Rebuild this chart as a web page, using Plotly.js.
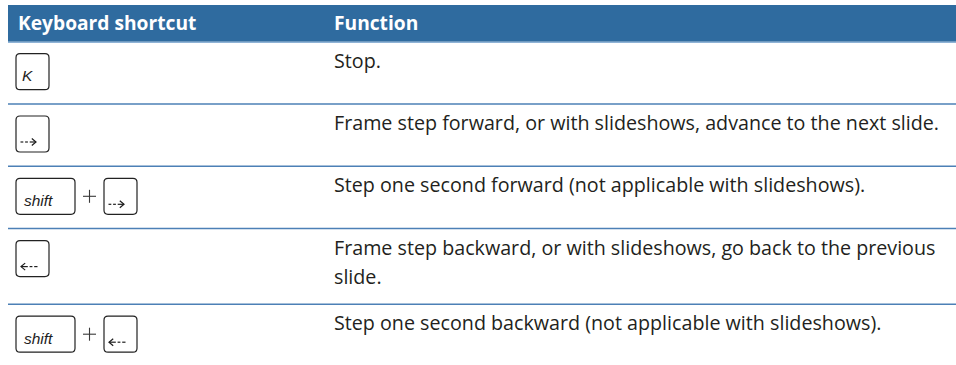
<!DOCTYPE html>
<html>
<head>
<meta charset="utf-8">
<script src="https://cdn.plot.ly/plotly-3.0.1.min.js"></script>
<style>html,body{margin:0;padding:0;background:#fff;}#chart{width:956px;height:365px;}</style>
</head>
<body>
<div id="chart"></div>
<script>
// ---- data ----
const headers = ["Keyboard shortcut", "Function"];
const shortcutKeys = [["K"], ["right"], ["shift", "right"], ["left"], ["shift", "left"]];
const functionTexts = [
  "Stop.",
  "Frame step forward, or with slideshows, advance to the next slide.",
  "Step one second forward (not applicable with slideshows).",
  "Frame step backward, or with slideshows, go back to the previous\nslide.",
  "Step one second backward (not applicable with slideshows)."
];

// ---- layout constants ----
const W = 956, H = 365;
const tableLeft = 8, tableRight = 956;
const headerTop = 5, headerBottom = 41.7;
const rowBase = 62.3, rowExtra = 13.3;
const col1X = 16, col2X = 332;
const textFont = "Open Sans", textSize = 19.7, textColor = "#231f20";
const lineGap = 29;
const keyTopPad = 12, keyH = 36, keyR = 4;
const keyW = {shift: 59, other: 33};

const shapes = [], annotations = [];

// header
shapes.push({type: "rect", xref: "x", yref: "y", x0: tableLeft, x1: tableRight, y0: headerTop, y1: headerBottom,
  fillcolor: "#2f6b9f", line: {width: 0}, layer: "below"});
shapes.push({type: "line", xref: "x", yref: "y", x0: tableLeft, x1: tableRight, y0: headerBottom + 0.6, y1: headerBottom + 0.6,
  line: {color: "#8fb3d6", width: 1.3}});
[col1X, col2X].forEach((cx, i) => {
  annotations.push({xref: "x", yref: "y", x: cx, y: headerTop + 1.5, xanchor: "left", yanchor: "top",
    text: "<b>" + headers[i] + "</b>", showarrow: false,
    font: {family: textFont, size: 19.2, color: "#ffffff"}});
});

function roundRect(x0, y0, x1, y1, r) {
  return `M${x0 + r},${y0} L${x1 - r},${y0} Q${x1},${y0} ${x1},${y0 + r} L${x1},${y1 - r} Q${x1},${y1} ${x1 - r},${y1} ` +
         `L${x0 + r},${y1} Q${x0},${y1} ${x0},${y1 - r} L${x0},${y0 + r} Q${x0},${y0} ${x0 + r},${y0} Z`;
}

function arrow(kx, ky, dir) {
  const y = ky + keyH - 10;
  const lc = {color: "#1e1e1e", width: 1.2};
  if (dir === "right") {
    const x0 = kx + 4.5, xe = kx + 20;
    shapes.push({type: "line", xref: "x", yref: "y", x0: x0, x1: x0 + 2.8, y0: y, y1: y, line: lc});
    shapes.push({type: "line", xref: "x", yref: "y", x0: x0 + 4.6, x1: x0 + 7.4, y0: y, y1: y, line: lc});
    shapes.push({type: "line", xref: "x", yref: "y", x0: x0 + 9.2, x1: xe, y0: y, y1: y, line: lc});
    shapes.push({type: "path", xref: "x", yref: "y", path: `M${xe - 4.2},${y - 3.5} L${xe},${y} L${xe - 4.2},${y + 3.5}`, line: lc});
  } else {
    const xs = kx + 5, xe = kx + 21.5;
    shapes.push({type: "line", xref: "x", yref: "y", x0: xs, x1: xs + 6.8, y0: y, y1: y, line: lc});
    shapes.push({type: "line", xref: "x", yref: "y", x0: xs + 8.6, x1: xs + 11.4, y0: y, y1: y, line: lc});
    shapes.push({type: "line", xref: "x", yref: "y", x0: xs + 13.2, x1: xe, y0: y, y1: y, line: lc});
    shapes.push({type: "path", xref: "x", yref: "y", path: `M${xs + 4.2},${y - 3.5} L${xs},${y} L${xs + 4.2},${y + 3.5}`, line: lc});
  }
}

let rowTop = headerBottom;
functionTexts.forEach((txt, i) => {
  const lines = txt.split("\n");
  const h = rowBase + (lines.length - 1) * rowExtra;
  if (i > 0) {
    shapes.push({type: "line", xref: "x", yref: "y", x0: tableLeft, x1: tableRight, y0: rowTop, y1: rowTop,
      line: {color: "#4c80b6", width: 1.5}});
  }
  lines.forEach((ln, j) => {
    annotations.push({xref: "x", yref: "y", x: col2X, y: rowTop + 3 + j * lineGap, xanchor: "left", yanchor: "top",
      text: ln, showarrow: false, font: {family: textFont, size: textSize, color: textColor}});
  });
  let kx = 16;
  const ky = rowTop + keyTopPad;
  shortcutKeys[i].forEach((k, j) => {
    if (j > 0) {
      const cx = kx + 14.5, cy = ky + keyH / 2;
      shapes.push({type: "line", xref: "x", yref: "y", x0: cx - 6.5, x1: cx + 6.5, y0: cy, y1: cy, line: {color: "#3a3a3a", width: 1.1}});
      shapes.push({type: "line", xref: "x", yref: "y", x0: cx, x1: cx, y0: cy - 6.5, y1: cy + 6.5, line: {color: "#3a3a3a", width: 1.1}});
      kx += 29;
    }
    const w = k === "shift" ? keyW.shift : keyW.other;
    shapes.push({type: "path", xref: "x", yref: "y", path: roundRect(kx, ky, kx + w, ky + keyH, keyR),
      line: {color: "#222222", width: 1.2}, fillcolor: "rgba(0,0,0,0)"});
    if (k === "right" || k === "left") {
      arrow(kx, ky, k);
    } else {
      annotations.push({xref: "x", yref: "y", x: kx + (k === "K" ? 4 : 5.5), y: ky + keyH - 3.5, xanchor: "left", yanchor: "bottom",
        text: "<i>" + k + "</i>", showarrow: false,
        font: {family: "Liberation Sans", size: 15.5, color: "#1e1e1e"}});
    }
    kx += w;
  });
  rowTop += h;
});

const layout = {
  width: W, height: H,
  margin: {l: 0, r: 0, t: 0, b: 0, pad: 0},
  paper_bgcolor: "#ffffff", plot_bgcolor: "#ffffff",
  xaxis: {range: [0, W], visible: false, fixedrange: true},
  yaxis: {range: [H, 0], visible: false, fixedrange: true},
  showlegend: false,
  shapes: shapes,
  annotations: annotations
};

Plotly.newPlot("chart", [], layout, {staticPlot: true, displayModeBar: false});
</script>
</body>
</html>
